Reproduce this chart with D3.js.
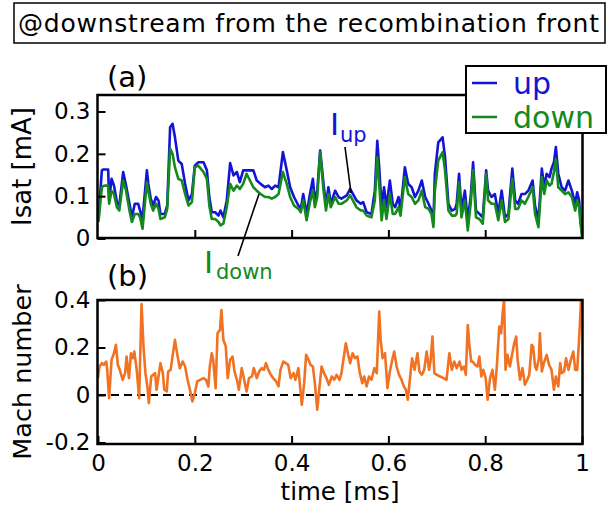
<!DOCTYPE html>
<html>
<head>
<meta charset="utf-8">
<script src="https://cdn.jsdelivr.net/npm/d3@7"></script>
<style>
  html, body { margin: 0; padding: 0; background: #fff; }
  svg { display: block; font-family: "DejaVu Sans", sans-serif; }
</style>
</head>
<body>
<svg id="chart" width="609" height="511"></svg>
<script>
// ---- data ---------------------------------------------------------------
// Ion saturation current (mA) of the upstream / downstream facing probes
const timeA = [
  0.001,0.008,0.011,0.015,0.021,0.023,0.028,0.033,0.039,0.044,
  0.052,0.058,0.065,0.070,0.076,0.083,0.087,0.092,0.101,0.104,
  0.109,0.114,0.120,0.125,0.129,0.138,0.143,0.149,0.154,0.159,
  0.166,0.173,0.180,0.187,0.194,0.200,0.207,0.218,0.225,0.230,
  0.235,0.242,0.249,0.253,0.259,0.266,0.273,0.280,0.287,0.293,
  0.300,0.307,0.314,0.321,0.328,0.336,0.345,0.352,0.359,0.366,
  0.373,0.382,0.390,0.397,0.405,0.414,0.419,0.424,0.431,0.438,
  0.444,0.448,0.453,0.459,0.466,0.471,0.476,0.481,0.490,0.497,
  0.503,0.514,0.521,0.534,0.543,0.548,0.555,0.565,0.572,0.577,
  0.581,0.586,0.591,0.596,0.603,0.609,0.614,0.621,0.625,0.634,
  0.641,0.648,0.655,0.662,0.669,0.676,0.683,0.689,0.693,0.696,
  0.703,0.712,0.717,0.724,0.731,0.738,0.741,0.746,0.751,0.758,
  0.764,0.770,0.775,0.781,0.788,0.795,0.802,0.806,0.813,0.820,
  0.827,0.834,0.841,0.848,0.856,0.862,0.868,0.875,0.882,0.889,
  0.898,0.903,0.910,0.917,0.922,0.927,0.933,0.937,0.942,0.946,
  0.951,0.958,0.965,0.972,0.979,0.986,0.990,0.994,0.997,1.000
];
const isatUp = [
  0.050,0.161,0.163,0.163,0.163,0.090,0.141,0.125,0.086,0.078,
  0.157,0.125,0.082,0.050,0.082,0.082,0.066,0.046,0.161,0.129,
  0.094,0.078,0.098,0.090,0.058,0.058,0.078,0.263,0.271,0.239,
  0.184,0.176,0.129,0.090,0.105,0.172,0.180,0.180,0.161,0.098,
  0.062,0.062,0.054,0.066,0.050,0.090,0.178,0.149,0.157,0.133,
  0.161,0.161,0.161,0.161,0.137,0.129,0.121,0.125,0.117,0.125,
  0.121,0.204,0.161,0.121,0.098,0.078,0.070,0.105,0.058,0.105,
  0.141,0.090,0.113,0.208,0.129,0.078,0.121,0.082,0.113,0.098,
  0.094,0.102,0.117,0.090,0.082,0.086,0.062,0.058,0.113,0.231,
  0.168,0.074,0.121,0.074,0.137,0.082,0.074,0.098,0.066,0.168,
  0.129,0.121,0.098,0.113,0.137,0.098,0.082,0.066,0.039,0.153,
  0.227,0.239,0.192,0.082,0.066,0.070,0.082,0.153,0.066,0.113,
  0.043,0.098,0.180,0.066,0.058,0.050,0.161,0.113,0.098,0.105,
  0.058,0.113,0.050,0.058,0.165,0.090,0.082,0.105,0.105,0.113,
  0.137,0.078,0.043,0.165,0.121,0.153,0.145,0.165,0.180,0.216,
  0.153,0.121,0.113,0.137,0.113,0.082,0.109,0.090,0.043,0.011
];
const isatDown = [
  0.039,0.121,0.124,0.125,0.125,0.082,0.113,0.105,0.074,0.066,
  0.137,0.113,0.066,0.039,0.058,0.058,0.050,0.023,0.133,0.113,
  0.082,0.066,0.082,0.070,0.046,0.050,0.070,0.212,0.200,0.168,
  0.141,0.137,0.105,0.078,0.086,0.168,0.172,0.157,0.141,0.078,
  0.046,0.046,0.039,0.031,0.035,0.074,0.129,0.113,0.125,0.117,
  0.129,0.153,0.137,0.121,0.113,0.105,0.098,0.098,0.094,0.098,
  0.105,0.157,0.129,0.098,0.078,0.070,0.062,0.090,0.043,0.086,
  0.113,0.074,0.098,0.204,0.113,0.066,0.105,0.074,0.098,0.082,
  0.082,0.090,0.102,0.074,0.066,0.066,0.054,0.050,0.090,0.192,
  0.129,0.043,0.090,0.046,0.105,0.058,0.058,0.074,0.054,0.145,
  0.105,0.098,0.082,0.090,0.113,0.074,0.070,0.058,0.027,0.113,
  0.184,0.204,0.161,0.066,0.054,0.054,0.058,0.133,0.050,0.090,
  0.019,0.082,0.161,0.050,0.046,0.035,0.153,0.090,0.082,0.082,
  0.043,0.090,0.039,0.046,0.141,0.070,0.070,0.090,0.082,0.098,
  0.121,0.058,0.027,0.145,0.105,0.137,0.125,0.129,0.157,0.188,
  0.121,0.113,0.105,0.109,0.098,0.066,0.090,0.074,0.035,0.003
];

// Mach number of the parallel flow
const timeB = [
  0.000,0.003,0.008,0.012,0.017,0.019,0.023,0.028,0.033,0.037,
  0.041,0.045,0.051,0.056,0.059,0.064,0.068,0.072,0.075,0.080,
  0.085,0.090,0.094,0.098,0.102,0.105,0.110,0.114,0.118,0.121,
  0.125,0.129,0.134,0.137,0.142,0.145,0.150,0.154,0.159,0.164,
  0.169,0.175,0.180,0.185,0.190,0.195,0.200,0.205,0.211,0.218,
  0.223,0.228,0.231,0.235,0.238,0.243,0.247,0.252,0.255,0.259,
  0.264,0.268,0.273,0.278,0.282,0.287,0.291,0.297,0.302,0.307,
  0.312,0.318,0.322,0.328,0.333,0.338,0.343,0.347,0.352,0.357,
  0.362,0.368,0.373,0.377,0.383,0.388,0.393,0.398,0.404,0.408,
  0.414,0.421,0.426,0.430,0.435,0.439,0.444,0.448,0.453,0.457,
  0.462,0.467,0.472,0.477,0.483,0.488,0.493,0.499,0.503,0.508,
  0.512,0.517,0.521,0.526,0.531,0.536,0.541,0.546,0.550,0.555,
  0.560,0.565,0.571,0.576,0.581,0.584,0.588,0.593,0.598,0.603,
  0.608,0.612,0.617,0.622,0.627,0.632,0.636,0.640,0.645,0.649,
  0.654,0.660,0.664,0.669,0.674,0.679,0.684,0.687,0.691,0.695,
  0.700,0.707,0.714,0.720,0.726,0.731,0.736,0.741,0.747,0.751,
  0.756,0.760,0.764,0.767,0.771,0.774,0.779,0.784,0.788,0.792,
  0.796,0.801,0.805,0.810,0.815,0.820,0.824,0.829,0.833,0.836,
  0.839,0.842,0.846,0.851,0.856,0.860,0.864,0.867,0.872,0.877,
  0.882,0.887,0.891,0.896,0.899,0.903,0.906,0.911,0.913,0.917,
  0.921,0.927,0.932,0.937,0.942,0.946,0.951,0.955,0.958,0.963,
  0.967,0.972,0.977,0.982,0.986,0.990,0.994,0.998,1.000
];
const machNumber = [
  0.071,0.120,0.134,0.127,0.141,0.106,-0.013,0.148,0.176,0.211,
  0.127,0.106,0.064,0.092,0.162,0.071,0.176,0.155,0.183,0.106,
  -0.013,0.383,0.204,0.092,0.036,-0.034,0.078,0.085,0.092,0.022,
  0.078,0.134,0.092,0.022,0.015,0.099,0.106,0.162,0.232,0.169,
  0.113,0.141,0.120,0.064,0.022,-0.027,0.008,0.057,0.064,0.071,
  0.064,0.036,0.120,0.176,0.148,0.029,0.260,0.274,0.358,0.232,
  0.204,0.071,0.148,0.162,0.099,0.064,0.022,0.113,0.064,0.015,
  0.071,0.078,0.113,0.071,0.099,0.113,0.106,0.134,0.106,0.085,
  0.071,0.057,0.036,0.106,0.141,0.134,0.127,0.071,0.092,0.064,
  0.113,-0.041,0.050,0.169,0.148,0.127,0.120,0.050,-0.062,0.022,
  0.120,0.092,0.071,0.043,0.078,0.064,0.085,0.064,0.092,0.162,
  0.218,0.169,0.134,0.176,0.155,0.162,0.092,0.050,0.078,0.036,
  0.078,0.064,0.113,0.092,0.351,0.232,0.155,0.176,0.029,0.099,
  0.148,0.183,0.120,0.085,0.064,0.036,0.022,-0.020,0.078,0.155,
  0.106,0.176,0.099,0.085,0.106,0.183,0.106,0.141,0.246,0.092,
  0.085,0.078,0.071,0.064,0.176,0.106,0.141,0.113,0.141,0.106,
  0.120,0.085,0.295,0.218,0.141,0.141,0.127,0.120,0.162,0.078,
  0.106,0.071,-0.020,0.071,0.106,0.022,0.120,0.288,0.260,0.344,
  0.400,0.106,0.169,0.120,0.176,0.218,0.246,0.148,0.064,0.113,
  0.043,0.064,0.085,0.211,0.204,0.120,0.106,0.155,0.260,0.099,
  0.134,0.169,0.127,0.106,0.022,0.078,0.036,0.134,0.092,0.099,
  0.155,0.106,0.148,0.183,0.106,0.106,0.232,0.400,0.400
];

// axis ticks
const timeTicks = [0, 0.2, 0.4, 0.6, 0.8, 1];
const timeTickLabels = ["0", "0.2", "0.4", "0.6", "0.8", "1"];
const isatTicks = [0, 0.1, 0.2, 0.3];
const isatTickLabels = ["0", "0.1", "0.2", "0.3"];
const machTicks = [-0.2, 0, 0.2, 0.4];
const machTickLabels = ["-0.2", "0", "0.2", "0.4"];

const seriesNames = ["up", "down"];
const seriesColors = ["#1414d6", "#138a1c"];
const machColor = "#f07222";

// ---- layout -------------------------------------------------------------
const svg = d3.select("#chart");
const FONT = "DejaVu Sans";

const x = d3.scaleLinear().domain([0, 1]).range([98, 582]);
const yA = d3.scaleLinear().domain([0, 0.3]).range([238.5, 111.5]);
const yB = d3.scaleLinear().domain([-0.2, 0.4]).range([442.5, 300]);

const panelA = { top: 95, bottom: 238 };
const panelB = { top: 300, bottom: 444 };
const left = 97.5, right = 582.5;

// clip paths so the traces stay inside their frames
const defs = svg.append("defs");
defs.append("clipPath").attr("id", "clipA").append("rect")
  .attr("x", left).attr("y", panelA.top).attr("width", right - left).attr("height", panelA.bottom - panelA.top);
defs.append("clipPath").attr("id", "clipB").append("rect")
  .attr("x", left).attr("y", panelB.top - 1).attr("width", right - left + 1).attr("height", panelB.bottom - panelB.top + 1);

// title box
svg.append("rect").attr("x", 14).attr("y", 3).attr("width", 591).attr("height", 40)
  .attr("fill", "#fff").attr("stroke", "#000").attr("stroke-width", 1.5);
svg.append("text").attr("x", 18).attr("y", 32)
  .attr("font-size", 25).attr("textLength", 581).attr("lengthAdjust", "spacing")
  .attr("fill", "#000")
  .text("@downstream from the recombination front");

// ---- panel (a) ----------------------------------------------------------
const lineA = vals => d3.line()
  .x((d, i) => x(timeA[i]))
  .y(d => yA(d))(vals);

const gA = svg.append("g").attr("clip-path", "url(#clipA)");
[isatUp, isatDown].forEach((vals, k) => {
  gA.append("path").attr("d", lineA(vals))
    .attr("fill", "none").attr("stroke", seriesColors[k])
    .attr("stroke-width", 2.6).attr("stroke-linejoin", "round");
});

svg.append("rect").attr("x", left).attr("y", panelA.top)
  .attr("width", right - left).attr("height", panelA.bottom - panelA.top)
  .attr("fill", "none").attr("stroke", "#000").attr("stroke-width", 2.5);

function styleAxis(g) {
  g.select(".domain").remove();
  g.selectAll(".tick line").attr("stroke", "#000").attr("stroke-width", 2);
  g.selectAll(".tick text").attr("fill", "#000").attr("font-family", FONT).attr("font-size", 23);
}

svg.append("g").attr("transform", `translate(${left},0)`)
  .call(d3.axisLeft(yA).tickValues(isatTicks)
    .tickFormat((d, i) => isatTickLabels[i]).tickSize(-8).tickPadding(7))
  .call(styleAxis);
svg.append("g").attr("transform", `translate(0,${panelA.bottom})`)
  .call(d3.axisBottom(x).tickValues(timeTicks.slice(1, -1))
    .tickFormat("").tickSize(-8))
  .call(styleAxis);

svg.append("text").attr("transform", `translate(31,${(panelA.top + panelA.bottom) / 2}) rotate(-90)`)
  .attr("text-anchor", "middle").attr("font-size", 26).attr("fill", "#000")
  .text("Isat [mA]");

svg.append("text").attr("x", 107).attr("y", 87).attr("font-size", 29).attr("fill", "#000").text("(a)");

// annotations
svg.append("line").attr("x1", 345).attr("y1", 147).attr("x2", 351).attr("y2", 193)
  .attr("stroke", "#000").attr("stroke-width", 1.6);
svg.append("text").attr("x", 330).attr("y", 135).attr("font-size", 31).attr("fill", seriesColors[0]).text("I");
svg.append("text").attr("x", 340).attr("y", 142).attr("font-size", 21).attr("fill", seriesColors[0]).text("up");

svg.append("line").attr("x1", 238).attr("y1", 256).attr("x2", 259).attr("y2", 194)
  .attr("stroke", "#000").attr("stroke-width", 1.6);
svg.append("text").attr("x", 204).attr("y", 273).attr("font-size", 31).attr("fill", seriesColors[1]).text("I");
svg.append("text").attr("x", 216).attr("y", 279).attr("font-size", 21).attr("fill", seriesColors[1]).text("down");

// legend
const legend = svg.append("g");
legend.append("rect").attr("x", 466).attr("y", 66).attr("width", 140).attr("height", 67)
  .attr("fill", "#fff").attr("stroke", "#000").attr("stroke-width", 2);
seriesNames.forEach((name, k) => {
  const yy = 83 + k * 34;
  legend.append("line").attr("x1", 472).attr("x2", 497).attr("y1", yy).attr("y2", yy)
    .attr("stroke", seriesColors[k]).attr("stroke-width", 2.5);
  legend.append("text").attr("x", 513).attr("y", yy + 11).attr("font-size", 30)
    .attr("fill", seriesColors[k]).text(name);
});

// ---- panel (b) ----------------------------------------------------------
svg.append("line").attr("x1", x(0)).attr("x2", x(1)).attr("y1", yB(0)).attr("y2", yB(0))
  .attr("stroke", "#000").attr("stroke-width", 2).attr("stroke-dasharray", "8,5");

const lineB = d3.line().x((d, i) => x(timeB[i])).y(d => yB(d));
svg.append("g").attr("clip-path", "url(#clipB)")
  .append("path").attr("d", lineB(machNumber))
  .attr("fill", "none").attr("stroke", machColor)
  .attr("stroke-width", 2.6).attr("stroke-linejoin", "round");

svg.append("rect").attr("x", left).attr("y", panelB.top)
  .attr("width", right - left).attr("height", panelB.bottom - panelB.top)
  .attr("fill", "none").attr("stroke", "#000").attr("stroke-width", 2.5);

svg.append("g").attr("transform", `translate(${left},0)`)
  .call(d3.axisLeft(yB).tickValues(machTicks)
    .tickFormat((d, i) => machTickLabels[i]).tickSize(-8).tickPadding(7))
  .call(styleAxis);
svg.append("g").attr("transform", `translate(0,${panelB.bottom})`)
  .call(d3.axisBottom(x).tickValues(timeTicks)
    .tickFormat((d, i) => timeTickLabels[i]).tickSize(-8).tickPadding(11))
  .call(styleAxis);

svg.append("text").attr("transform", `translate(31,${(panelB.top + panelB.bottom) / 2}) rotate(-90)`)
  .attr("text-anchor", "middle").attr("font-size", 25.5).attr("fill", "#000")
  .text("Mach number");

svg.append("text").attr("x", 107).attr("y", 286).attr("font-size", 29).attr("fill", "#000").text("(b)");

svg.append("text").attr("x", (x(0) + x(1)) / 2).attr("y", 500)
  .attr("text-anchor", "middle").attr("font-size", 24.5).attr("fill", "#000")
  .text("time [ms]");
</script>
</body>
</html>
